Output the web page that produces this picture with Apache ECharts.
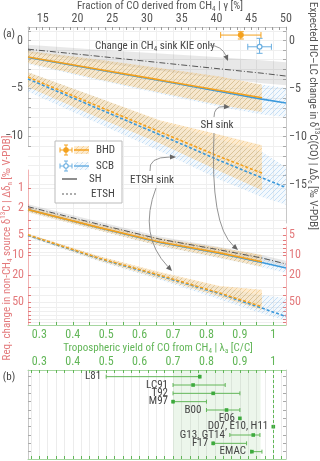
<!DOCTYPE html>
<html>
<head>
<meta charset="utf-8">
<script src="https://cdn.jsdelivr.net/npm/echarts@6/dist/echarts.min.js"></script>
<style>html,body{margin:0;padding:0;background:#fff}#main{width:320px;height:461px}</style>
</head>
<body>
<div id="main"></div>
<script>
var FONT = '"Roboto Condensed","Liberation Sans Narrow","DejaVu Sans Condensed",Roboto,sans-serif';
var ORANGE = '#f4a11d', BLUE = '#3b99dc', GREEN = '#62b658', RED = '#e3797b', GREY = '#555';

// x samples (tropospheric yield λa)
var lamBHD = [0.266, 0.48, 0.66, 0.84, 0.966];
var lamSCB = [0.266, 0.48, 0.66, 0.84, 0.966, 1.038];

// (a) upper: expected HC-LC change Δδc [‰]
var shBHD   = [-1.72, -3.02, -4.1, -5.2, -5.95];
var shBHDhi = [-1.1, -2.0, -2.85, -3.75, -4.6];
var shBHDlo = [-2.35, -4.05, -5.4, -6.7, -7.45];
var shSCB   = [-1.75, -3.07, -4.17, -5.3, -6.1, -6.5];
var shSCBhi = [-1.1, -2.05, -2.95, -3.9, -4.6, -4.95];
var shSCBlo = [-2.45, -4.15, -5.55, -6.9, -7.7, -7.97];
var etBHD   = [-3.8, -6.9, -9.5, -12.1, -13.8];
var etBHDhi = [-3.3, -6.0, -8.3, -9.8, -10.9];
var etBHDlo = [-4.85, -8.1, -10.7, -13.6, -15.6];
var etSCB   = [-4.0, -7.15, -9.8, -12.5, -14.3, -15.3];
var etSCBhi = [-3.3, -6.0, -8.4, -10.3, -11.6, -13.2];
var etSCBlo = [-5.3, -8.7, -11.5, -14.5, -16.3, -17.1];
var kie     = [-0.9, -1.65, -2.3, -2.95, -3.4, -3.7];
var kieHi   = [-0.45, -0.95, -1.35, -1.75, -2.05, -2.25];
var kieLo   = [-1.3, -2.3, -3.15, -3.95, -4.45, -4.65];

// (a) lower: required change in non-CH4 source Δδn [‰]
var nShBHD   = [2.1, 3.9, 6.4, 9.3, 12.6];
var nShBHDhi = [1.95, 3.55, 5.6, 7.8, 10.0];
var nShBHDlo = [2.3, 4.3, 7.3, 11.0, 15.0];
var nShSCB   = [2.1, 3.95, 6.5, 9.5, 12.9, 15.6];
var nShSCBhi = [1.95, 3.6, 5.8, 8.1, 10.5, 13.8];
var nShSCBlo = [2.3, 4.35, 7.4, 11.2, 15.3, 18.5];
var nEtBHD   = [5.0, 11.2, 20, 37, 59];
var nEtBHDhi = [4.8, 10.4, 18, 29, 33];
var nEtBHDlo = [5.3, 12.2, 22.5, 42, 66];
var nEtSCB   = [5.1, 11.4, 20.5, 38, 62, 83];
var nEtSCBhi = [4.8, 10.5, 18.5, 30, 40, 44];
var nEtSCBlo = [5.4, 12.5, 23.5, 46, 75, 95];
var nKie     = [1.9, 3.5, 5.8, 8.4, 11.1, 13.6];
var nKieHi   = [1.75, 3.2, 5.3, 7.6, 10.0, 12.2];
var nKieLo   = [2.05, 3.8, 6.3, 9.2, 12.3, 15.1];

// observed HC-LC difference vs fraction γ [%]
var obsGamma   = [43.5, 46.2];
var obsGammaLo = [40.6, 44.5];
var obsGammaHi = [46.4, 47.9];
var obsDelta   = [0.57, -0.65];
var obsDeltaHi = [0.92, 0.23];
var obsDeltaLo = [0.16, -1.33];

// (b) literature yields
var refNames = ['L81', 'LC91', 'T92', 'M97', 'B00', 'F06', 'D07, E10, H11', 'G13, GT14', 'F17', 'EMAC'];
var refBest  = [0.78, 0.76, 0.82, 0.70, 0.86, 0.90, 1.00, 0.94, 0.82, 0.936];
var refLow   = [0.50, 0.70, 0.70, 0.70, 0.80, null, null, 0.87, 0.82, 0.933];
var refHigh  = [0.78, 0.856, 0.90, 0.80, 0.90, null, null, 0.96, 0.92, 0.966];

// tick labels
var gammaTicks = [15, 20, 25, 30, 35, 40, 45, 50];
var lambdaTicks = [0.3, 0.4, 0.5, 0.6, 0.7, 0.8, 0.9, 1];
var leftLinTicks = [0, -5, -10];
var rightLinTicks = [0, -5, -10, -15];
var leftLogTicks = [1, 2, 5, 10, 20, 50];
var rightLogTicks = [5, 10, 20, 50];

var LMIN = 0.266, LMAX = 1.038, GMIN = 12.88, GMAX = 50;

function steps(a, b, s) { var r = []; for (var v = a; v <= b + 1e-9; v += s) r.push(Math.round(v * 1000) / 1000); return r; }
function logMinor(a, b) { var r = []; [1, 10, 100].forEach(function (d) { for (var k = 1; k < 10; k++) { var v = k * d; if (v >= a && v <= b) r.push(Math.log10(v)); } }); return r; }
var lg = function (v) { return Math.log10(v); };
var id = function (v) { return v; };
var minus = function (v) { return v < 0 ? '\u2212' + (-v) : String(v); };

function hatch(bg, fg) {
  var c = document.createElement('canvas'); c.width = 5; c.height = 5;
  var g = c.getContext('2d');
  if (bg) { g.fillStyle = bg; g.fillRect(0, 0, 5, 5); }
  g.strokeStyle = fg; g.lineWidth = 0.9;
  g.beginPath();
  g.moveTo(0, 5); g.lineTo(5, 0);
  g.moveTo(-1, 1); g.lineTo(1, -1);
  g.moveTo(4, 6); g.lineTo(6, 4);
  g.stroke();
  return { image: c, repeat: 'repeat' };
}
var orangeFill = hatch('rgba(250,195,110,0.33)', 'rgba(225,160,60,0.38)');
var blueFill = hatch('rgba(150,200,240,0.10)', 'rgba(120,180,235,0.42)');
var greyFill = 'rgba(0,0,0,0.09)';

function band(xs, hi, lo, fill, xi, yi, f) {
  return {
    type: 'custom', xAxisIndex: xi, yAxisIndex: yi, silent: true,
    data: xs.map(function (x, i) { return [x, f(hi[i])]; }),
    renderItem: function (params, api) {
      if (params.dataIndex !== 0) return null;
      var pts = [];
      xs.forEach(function (x, i) { pts.push(api.coord([x, f(hi[i])])); });
      for (var i = xs.length - 1; i >= 0; i--) pts.push(api.coord([xs[i], f(lo[i])]));
      return { type: 'polygon', shape: { points: pts }, style: { fill: fill } };
    }
  };
}
function line(xs, ys, color, type, width, xi, yi, f) {
  return {
    type: 'line', xAxisIndex: xi, yAxisIndex: yi, silent: true, showSymbol: false,
    data: xs.map(function (x, i) { return [x, f(ys[i])]; }),
    lineStyle: { color: color, type: type, width: width }
  };
}

function valAxis(o) {
  var base = { type: 'value', axisLabel: { fontFamily: FONT, fontSize: 12 } };
  return Object.assign(base, o);
}
function fmtL(v) { return v === 1 ? '1' : v.toFixed(1); }

var xAxes = [
  // 0: panel a bottom λ
  valAxis({ gridIndex: 0, position: 'bottom', min: LMIN, max: LMAX,
    axisLine: { show: true, onZero: false, lineStyle: { color: '#a6d6a0' } },
    axisTick: { show: true, inside: true, length: 3, customValues: steps(0.3, 1.0, 0.05), lineStyle: { color: GREEN } },
    axisLabel: { customValues: lambdaTicks, color: GREEN, fontSize: 12, fontFamily: FONT, margin: 4, formatter: fmtL },
    splitLine: { show: true, lineStyle: { color: '#efefef' } } }),
  // 1: panel a top γ
  valAxis({ gridIndex: 0, position: 'top', min: GMIN, max: GMAX,
    axisLine: { show: true, onZero: false, lineStyle: { color: '#c8c8c8' } },
    axisTick: { show: true, inside: true, length: 3, customValues: steps(13, 50, 1), lineStyle: { color: '#999' } },
    axisLabel: { customValues: gammaTicks, color: GREY, fontSize: 12, fontFamily: FONT, margin: 2 },
    splitLine: { show: false } }),
  { type: 'value', gridIndex: 1, min: LMIN, max: LMAX, show: false },
  { type: 'value', gridIndex: 2, min: LMIN, max: LMAX, show: false },
  { type: 'value', gridIndex: 2, min: GMIN, max: GMAX, show: false },
  { type: 'value', gridIndex: 3, min: LMIN, max: LMAX, show: false },
  { type: 'value', gridIndex: 4, min: LMIN, max: LMAX, show: false },
  // 7: panel b top λ
  valAxis({ gridIndex: 5, position: 'top', min: LMIN, max: LMAX,
    axisLine: { show: true, onZero: false, lineStyle: { color: '#a6d6a0' } },
    axisTick: { show: true, inside: true, length: 3, customValues: steps(0.275, 1.025, 0.025), lineStyle: { color: GREEN } },
    axisLabel: { customValues: lambdaTicks, color: GREEN, fontSize: 12, fontFamily: FONT, margin: 2, formatter: fmtL },
    splitLine: { show: true, lineStyle: { color: '#ececec' } } }),
  // 8: panel b bottom
  valAxis({ gridIndex: 5, position: 'bottom', min: LMIN, max: LMAX,
    axisLine: { show: true, onZero: false, lineStyle: { color: '#a6d6a0' } },
    axisTick: { show: true, inside: true, length: 3, customValues: steps(0.275, 1.025, 0.025), lineStyle: { color: GREEN } },
    axisLabel: { show: false }, splitLine: { show: false } })
];

var yAxes = [
  { type: 'value', gridIndex: 0, min: 0, max: 1, show: false },
  // 1: left linear
  valAxis({ gridIndex: 1, position: 'left', min: -11, max: 1.41,
    axisLine: { show: true, lineStyle: { color: '#c8c8c8' } },
    axisTick: { show: true, inside: true, length: 3, customValues: steps(-11, 1, 1), lineStyle: { color: '#aaa' } },
    axisLabel: { customValues: leftLinTicks, color: GREY, fontSize: 12, fontFamily: FONT, margin: 5, formatter: minus },
    splitLine: { show: false } }),
  // 2: right linear
  valAxis({ gridIndex: 2, position: 'right', min: -19, max: 1.41,
    axisLine: { show: true, lineStyle: { color: '#c8c8c8' } },
    axisTick: { show: true, inside: true, length: 3, customValues: steps(-15, 1, 1), lineStyle: { color: '#aaa' } },
    axisLabel: { customValues: rightLinTicks, color: GREY, fontSize: 12, fontFamily: FONT, margin: 3, formatter: minus },
    splitLine: { show: true, lineStyle: { color: '#efefef' } } }),
  // 3: left log
  valAxis({ gridIndex: 3, position: 'left', min: -0.269, max: 2.045, inverse: true,
    axisLine: { show: true, lineStyle: { color: '#f2b3b4' } },
    axisTick: { show: true, inside: true, length: 3, customValues: logMinor(1, 100), lineStyle: { color: RED } },
    axisLabel: { customValues: leftLogTicks.map(lg), color: RED, fontSize: 12, fontFamily: FONT, margin: 4,
      formatter: function (v) { return String(Math.round(Math.pow(10, v))); } },
    splitLine: { show: true, lineStyle: { color: '#efefef' } } }),
  // 4: right log
  valAxis({ gridIndex: 4, position: 'right', min: 0.582, max: 2.045, inverse: true,
    axisLine: { show: true, lineStyle: { color: '#f2b3b4' } },
    axisTick: { show: true, inside: true, length: 3, customValues: logMinor(4, 100), lineStyle: { color: RED } },
    axisLabel: { customValues: rightLogTicks.map(lg), color: RED, fontSize: 12, fontFamily: FONT, margin: 3,
      formatter: function (v) { return String(Math.round(Math.pow(10, v))); } },
    splitLine: { show: false } }),
  // 5,6: panel b rows
  valAxis({ gridIndex: 5, position: 'left', min: -0.8, max: 9.88, inverse: true,
    axisLine: { show: true, lineStyle: { color: '#c8c8c8' } },
    axisTick: { show: true, inside: true, length: 3, customValues: steps(0, 9, 1), lineStyle: { color: '#aaa' } },
    axisLabel: { show: false }, splitLine: { show: false } }),
  valAxis({ gridIndex: 5, position: 'right', min: -0.8, max: 9.88, inverse: true,
    axisLine: { show: true, lineStyle: { color: '#c8c8c8' } },
    axisTick: { show: true, inside: true, length: 3, customValues: steps(0, 9, 1), lineStyle: { color: '#aaa' } },
    axisLabel: { show: false }, splitLine: { show: false } })
];

var series = [
  // upper panel
  band(lamSCB, kieHi, kieLo, greyFill, 3, 2, id),
  band(lamSCB, shSCBhi, shSCBlo, blueFill, 3, 2, id),
  band(lamSCB, etSCBhi, etSCBlo, blueFill, 3, 2, id),
  band(lamBHD, shBHDhi, shBHDlo, orangeFill, 3, 2, id),
  band(lamBHD, etBHDhi, etBHDlo, orangeFill, 3, 2, id),
  line(lamSCB, kie, '#555', [6, 2, 1, 2], 1, 3, 2, id),
  line(lamSCB, shSCB, BLUE, 'solid', 1.6, 3, 2, id),
  line(lamSCB, etSCB, BLUE, [3, 2], 1.6, 3, 2, id),
  line(lamBHD, shBHD, ORANGE, 'solid', 1.6, 3, 2, id),
  line(lamBHD, etBHD, ORANGE, [3, 2], 1.6, 3, 2, id),
  // lower panel (log)
  band(lamSCB, nKieHi, nKieLo, greyFill, 5, 3, lg),
  band(lamSCB, nShSCBhi, nShSCBlo, blueFill, 5, 3, lg),
  band(lamSCB, nEtSCBhi, nEtSCBlo, blueFill, 5, 3, lg),
  band(lamBHD, nShBHDhi, nShBHDlo, orangeFill, 5, 3, lg),
  band(lamBHD, nEtBHDhi, nEtBHDlo, orangeFill, 5, 3, lg),
  line(lamSCB, nKie, '#555', [6, 2, 1, 2], 1, 5, 3, lg),
  line(lamSCB, nShSCB, BLUE, 'solid', 1.6, 5, 3, lg),
  line(lamSCB, nEtSCB, BLUE, [3, 2], 1.6, 5, 3, lg),
  line(lamBHD, nShBHD, ORANGE, 'solid', 1.6, 5, 3, lg),
  line(lamBHD, nEtBHD, ORANGE, [3, 2], 1.6, 5, 3, lg),
  // observations
  {
    type: 'custom', xAxisIndex: 4, yAxisIndex: 2, silent: true,
    data: obsGamma.map(function (g, i) { return [g, obsDelta[i], obsGammaLo[i], obsGammaHi[i], obsDeltaLo[i], obsDeltaHi[i], i]; }),
    renderItem: function (params, api) {
      var c = api.coord([api.value(0), api.value(1)]);
      var xl = api.coord([api.value(2), api.value(1)]), xh = api.coord([api.value(3), api.value(1)]);
      var yl = api.coord([api.value(0), api.value(4)]), yh = api.coord([api.value(0), api.value(5)]);
      var col = api.value(6) === 0 ? ORANGE : '#6aaee0';
      var st = { stroke: col, lineWidth: 1 };
      return { type: 'group', children: [
        { type: 'line', shape: { x1: xl[0], y1: c[1], x2: xh[0], y2: c[1] }, style: st },
        { type: 'line', shape: { x1: xl[0], y1: c[1] - 3, x2: xl[0], y2: c[1] + 3 }, style: st },
        { type: 'line', shape: { x1: xh[0], y1: c[1] - 3, x2: xh[0], y2: c[1] + 3 }, style: st },
        { type: 'line', shape: { x1: c[0], y1: yl[1], x2: c[0], y2: yh[1] }, style: st },
        { type: 'line', shape: { x1: c[0] - 3, y1: yl[1], x2: c[0] + 3, y2: yl[1] }, style: st },
        { type: 'line', shape: { x1: c[0] - 3, y1: yh[1], x2: c[0] + 3, y2: yh[1] }, style: st },
        { type: 'circle', shape: { cx: c[0], cy: c[1], r: 2.4 },
          style: { fill: api.value(6) === 0 ? ORANGE : '#fff', stroke: col, lineWidth: 1.2 } }
      ] };
    }
  },
  // panel b ranges and labels
  {
    type: 'custom', xAxisIndex: 7, yAxisIndex: 5, silent: true,
    data: refNames.map(function (n, i) { return [refBest[i], i, refLow[i] == null ? refBest[i] : refLow[i], refHigh[i] == null ? refBest[i] : refHigh[i]]; }),
    renderItem: function (params, api) {
      var i = params.dataIndex;
      var lo = api.coord([api.value(2), i]), hi = api.coord([api.value(3), i]), p = api.coord([api.value(0), i]);
      var st = { stroke: GREEN, lineWidth: 1 };
      var kids = [];
      if (refLow[i] != null) {
        kids.push({ type: 'line', shape: { x1: lo[0], y1: lo[1], x2: hi[0], y2: hi[1] }, style: st });
        kids.push({ type: 'line', shape: { x1: lo[0], y1: lo[1] - 2, x2: lo[0], y2: lo[1] + 2 }, style: st });
        kids.push({ type: 'line', shape: { x1: hi[0], y1: hi[1] - 2, x2: hi[0], y2: hi[1] + 2 }, style: st });
      }
      kids.push({ type: 'rect', shape: { x: p[0] - 1.8, y: p[1] - 1.8, width: 3.6, height: 3.6 }, style: { fill: '#3daa3d' } });
      kids.push({ type: 'text', x: Math.min(lo[0], p[0]) - 5, y: p[1],
        style: { text: refNames[i], align: 'right', verticalAlign: 'middle', fill: '#444', font: '11px ' + FONT } });
      return { type: 'group', children: kids };
    },
    markArea: { silent: true, itemStyle: { color: 'rgba(98,182,88,0.12)' }, data: [[{ xAxis: 0.7 }, { xAxis: 0.962 }]] },
    markLine: { silent: true, symbol: 'none', label: { show: false },
      lineStyle: { color: GREEN, type: [3, 2], width: 1 }, data: [{ xAxis: 1 }] }
  }
];

function arrow(x0, y0, cx, cy, x1, y1) {
  var a = Math.atan2(y1 - cy, x1 - cx), L = 6, w = 2.6;
  var bx = x1 - L * Math.cos(a), by = y1 - L * Math.sin(a);
  return [
    { type: 'bezierCurve', shape: { x1: x0, y1: y0, cpx1: cx, cpy1: cy, x2: bx, y2: by }, style: { stroke: '#888', lineWidth: 0.9, fill: null } },
    { type: 'polygon', shape: { points: [[x1, y1], [bx - w * Math.sin(a), by + w * Math.cos(a)], [bx + w * Math.sin(a), by - w * Math.cos(a)]] }, style: { fill: '#666' } }
  ];
}
var sub = { fontSize: 7, lineHeight: 8, verticalAlign: 'bottom', fontFamily: FONT };
var sup = { fontSize: 7, lineHeight: 8, verticalAlign: 'top', fontFamily: FONT };
function rt(col, size) {
  return { fill: col, fontSize: size, fontFamily: FONT, lineHeight: 14,
    rich: { s: Object.assign({ fill: col }, sub), u: Object.assign({ fill: col }, sup) } };
}
function txt(x, y, s, col, size, align, rot) {
  var st = rt(col, size); st.text = s; st.align = align || 'center'; st.verticalAlign = 'middle';
  return { type: 'text', x: x, y: y, rotation: rot || 0, style: st, z: 100 };
}
function legendRow(y, col, fill, open, name) {
  var st = { stroke: col, lineWidth: 1 };
  return [
    { type: 'line', shape: { x1: 60, y1: y, x2: 72, y2: y }, style: st },
    { type: 'line', shape: { x1: 60, y1: y - 2.5, x2: 60, y2: y + 2.5 }, style: st },
    { type: 'line', shape: { x1: 72, y1: y - 2.5, x2: 72, y2: y + 2.5 }, style: st },
    { type: 'line', shape: { x1: 66, y1: y - 5, x2: 66, y2: y + 5 }, style: st },
    { type: 'line', shape: { x1: 64, y1: y - 5, x2: 68, y2: y - 5 }, style: st },
    { type: 'line', shape: { x1: 64, y1: y + 5, x2: 68, y2: y + 5 }, style: st },
    { type: 'circle', shape: { cx: 66, cy: y, r: 2.2 }, style: { fill: open ? '#fff' : col, stroke: col, lineWidth: 1.1 } },
    { type: 'rect', shape: { x: 74, y: y - 4, width: 15, height: 8 }, style: { fill: fill } },
    { type: 'line', shape: { x1: 74, y1: y, x2: 89, y2: y }, style: { stroke: col, lineWidth: 1.5 } },
    txt(96, y, name, '#444', 11, 'left')
  ];
}

var graphics = [
  { type: 'rect', shape: { x: 55, y: 141, width: 67, height: 62 }, style: { fill: '#fff', stroke: '#bbb', lineWidth: 1 }, z: 90 }
].concat(
  legendRow(150, ORANGE, orangeFill, false, 'BHD'),
  legendRow(166, '#6aaee0', blueFill, true, 'SCB'),
  [
    { type: 'line', shape: { x1: 62, y1: 179, x2: 77, y2: 179 }, style: { stroke: '#444', lineWidth: 1.2 }, z: 100 },
    txt(89, 179, 'SH', '#444', 11, 'left'),
    { type: 'line', shape: { x1: 62, y1: 194, x2: 77, y2: 194 }, style: { stroke: '#777', lineWidth: 1.2, lineDash: [2, 2] }, z: 100 },
    txt(91, 194, 'ETSH', '#444', 11, 'left'),
    txt(160, 6, 'Fraction of CO derived from CH{s|4} | \u03b3 [%]', GREY, 11),
    txt(158, 348, 'Tropospheric yield of CO from CH{s|4} | \u03bb{s|a} [C/C]', GREEN, 11),
    txt(7, 248, 'Req. change in non-CH{s|4} source \u03b4{u|13}C | \u0394\u03b4{s|n} [\u2030 V-PDB]', RED, 11, 'center', Math.PI / 2),
    txt(313, 116, 'Expected HC\u2013LC change in \u03b4{u|13}C(CO) | \u0394\u03b4{s|c} [\u2030 V-PDB]', GREY, 11, 'center', -Math.PI / 2),
    txt(9, 34, '(a)', '#444', 11),
    txt(9, 377, '(b)', '#444', 11),
    txt(95, 46, 'Change in CH{s|4} sink KIE only', '#444', 11, 'left'),
    txt(217, 125, 'SH sink', '#444', 11),
    txt(152, 180, 'ETSH sink', '#444', 11)
  ],
  arrow(209, 45, 222, 46, 228, 61),
  arrow(214, 117, 214, 106, 230, 107),
  arrow(214, 133, 210, 225, 238, 250),
  arrow(150, 171, 148, 157, 176, 157),
  arrow(156, 188, 138, 235, 172, 271)
);
graphics.forEach(function (g) { if (g.z == null) g.z = 100; });

var chart = echarts.init(document.getElementById('main'));
chart.setOption({
  animation: false,
  textStyle: { fontFamily: FONT },
  grid: [
    { left: 28, top: 27, width: 258, height: 298 },
    { left: 28, top: 27, width: 258, height: 119 },
    { left: 28, top: 27, width: 258, height: 196 },
    { left: 28, top: 170, width: 258, height: 155 },
    { left: 28, top: 227, width: 258, height: 98 },
    { left: 28, top: 370, width: 258, height: 89 }
  ],
  xAxis: xAxes,
  yAxis: yAxes,
  series: series,
  graphic: graphics
});
</script>
</body>
</html>
